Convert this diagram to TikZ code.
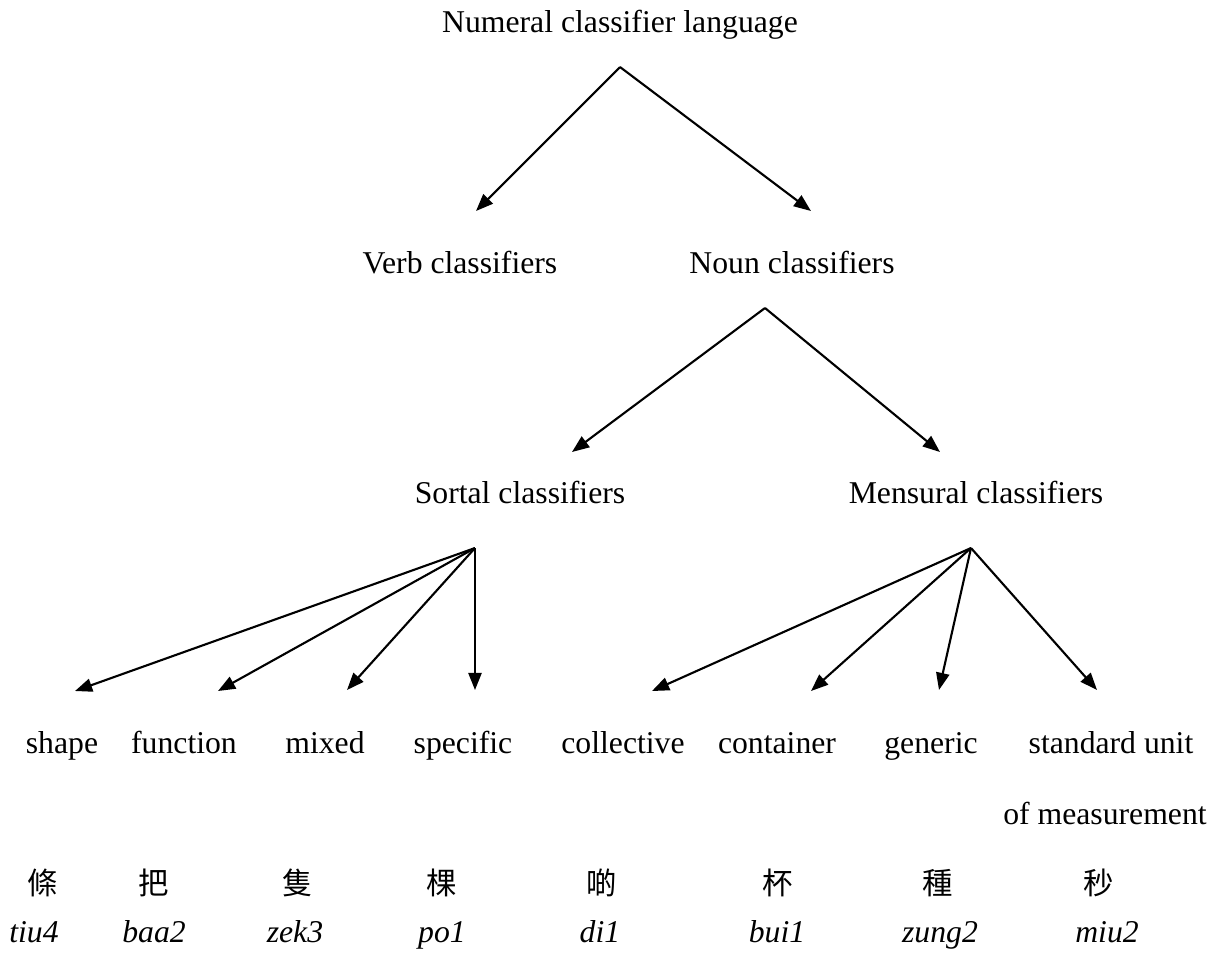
\documentclass[tikz,border=0pt]{standalone}
\usepackage{fontspec}
\setmainfont{Liberation Serif}
\newfontfamily\cjk{Noto Sans CJK TC}
\usetikzlibrary{arrows.meta}

\tikzset{
  cls/.style={inner sep=0pt, anchor=base, font=\fontsize{12}{14}\selectfont},
  hanzi/.style={cls, font=\fontsize{11.5}{14}\selectfont\cjk},
  jyutping/.style={cls, font=\fontsize{12}{14}\selectfont\itshape},
  arr/.style={-{Triangle[length=6.5pt,width=5pt]}, line width=0.8pt},
}

\begin{document}
\begin{tikzpicture}[x=0.3785pt, y=-0.3785pt]
  \useasboundingbox (0,0) rectangle (1220,953);

  % Tree levels
  \node[cls] (top) at (620,32) {Numeral classifier language};
  \node[cls] (verb) at (460,273) {Verb classifiers};
  \node[cls] (noun) at (792,273) {Noun classifiers};
  \node[cls] (sortal) at (520,503) {Sortal classifiers};
  \node[cls] (mensural) at (976,503) {Mensural classifiers};

  % Classifier types
  \node[cls] (shape) at (62,753) {shape};
  \node[cls] (function) at (184,753) {function};
  \node[cls] (mixed) at (325,753) {mixed};
  \node[cls] (specific) at (463,753) {specific};
  \node[cls] (collective) at (623,753) {collective};
  \node[cls] (container) at (777,753) {container};
  \node[cls] (generic) at (931,753) {generic};
  \node[cls] (standard) at (1111,753) {standard unit};
  \node[cls] (measure) at (1105,824) {of measurement};

  % Examples
  \node[hanzi] (c1) at (43,894) {條};
  \node[hanzi] (c2) at (154,894) {把};
  \node[hanzi] (c3) at (298,894) {隻};
  \node[hanzi] (c4) at (442,894) {棵};
  \node[hanzi] (c5) at (602,894) {啲};
  \node[hanzi] (c6) at (778,894) {杯};
  \node[hanzi] (c7) at (938,894) {種};
  \node[hanzi] (c8) at (1099,894) {秒};

  \node[jyutping] (j1) at (34,942) {tiu4};
  \node[jyutping] (j2) at (154,942) {baa2};
  \node[jyutping] (j3) at (295,942) {zek3};
  \node[jyutping] (j4) at (442,942) {po1};
  \node[jyutping] (j5) at (600,942) {di1};
  \node[jyutping] (j6) at (777,942) {bui1};
  \node[jyutping] (j7) at (940,942) {zung2};
  \node[jyutping] (j8) at (1107,942) {miu2};

  % Fork points and arrow ends
  \coordinate (top-fork) at (620,67);
  \coordinate (verb-in) at (476,211);
  \coordinate (noun-in) at (811,211);
  \coordinate (noun-fork) at (765,308);
  \coordinate (sortal-in) at (572,452);
  \coordinate (mensural-in) at (940,452);
  \coordinate (sortal-fork) at (475,548);
  \coordinate (mensural-fork) at (971,548);
  \coordinate (shape-in) at (75,691);
  \coordinate (function-in) at (218,691);
  \coordinate (mixed-in) at (347,690);
  \coordinate (specific-in) at (475,690);
  \coordinate (collective-in) at (652,691);
  \coordinate (container-in) at (811,691);
  \coordinate (generic-in) at (939,690);
  \coordinate (standard-in) at (1097,690);

  % Arrows
  \draw[arr] (top-fork) -- (verb-in);
  \draw[arr] (top-fork) -- (noun-in);
  \draw[arr] (noun-fork) -- (sortal-in);
  \draw[arr] (noun-fork) -- (mensural-in);
  \draw[arr] (sortal-fork) -- (shape-in);
  \draw[arr] (sortal-fork) -- (function-in);
  \draw[arr] (sortal-fork) -- (mixed-in);
  \draw[arr] (sortal-fork) -- (specific-in);
  \draw[arr] (mensural-fork) -- (collective-in);
  \draw[arr] (mensural-fork) -- (container-in);
  \draw[arr] (mensural-fork) -- (generic-in);
  \draw[arr] (mensural-fork) -- (standard-in);

\end{tikzpicture}
\end{document}
